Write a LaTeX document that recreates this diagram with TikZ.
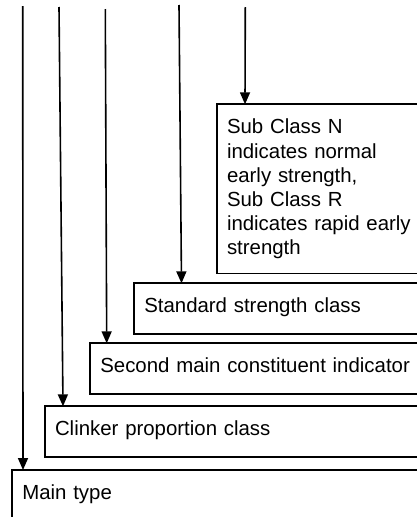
\documentclass[tikz,border=0pt]{standalone}
\usepackage{fontspec}
\setmainfont{Liberation Sans}
\usetikzlibrary{arrows.meta,calc}
\begin{document}
\begin{tikzpicture}[x=1pt,y=-1pt,
  box/.style={draw, line width=1.7pt, rectangle, anchor=north west, outer sep=0pt,
    inner xsep=10.3pt, inner ysep=0pt, align=left,
    font=\fontsize{20.4}{24.1}\selectfont},
  onebox/.style={box, minimum height=51pt, text height=15pt, text depth=8pt},
  arr/.style={line width=1.6pt, -{Triangle[length=12pt,width=10pt]}}]
\useasboundingbox (0,0) rectangle (417,517);
\clip (0,0) rectangle (417,517);
\node[box, minimum height=169.2pt, text width=202.7pt] (sub) at (216.7,104.3)
  {Sub Class N\\indicates normal\\early strength,\\Sub Class R\\indicates rapid early\\strength};
\node[onebox, text width=285.4pt] (std) at (134,283.3) {Standard strength class};
\node[onebox, text width=329.4pt] (sec) at (90,343.3) {Second main constituent indicator};
\node[onebox, text width=374.7pt] (clk) at (44.7,406.3) {Clinker proportion class};
\node[onebox, text width=407.4pt] (main) at (12,470) {Main type};
\coordinate (t1) at (22.7,6);
\coordinate (t2) at (59,7);
\coordinate (t3) at (105.3,9);
\coordinate (t4) at (179,5);
\coordinate (t5) at (245.3,7);
\draw[arr] (t1) -- ($(main.north west)+(11,0)$);
\draw[arr] (t2) -- ($(clk.north west)+(18.3,0)$);
\draw[arr] (t3) -- ($(sec.north west)+(16.7,0)$);
\draw[arr] (t4) -- ($(std.north west)+(47.5,0)$);
\draw[arr] (t5) -- ($(sub.north west)+(28.3,0)$);
\end{tikzpicture}
\end{document}
